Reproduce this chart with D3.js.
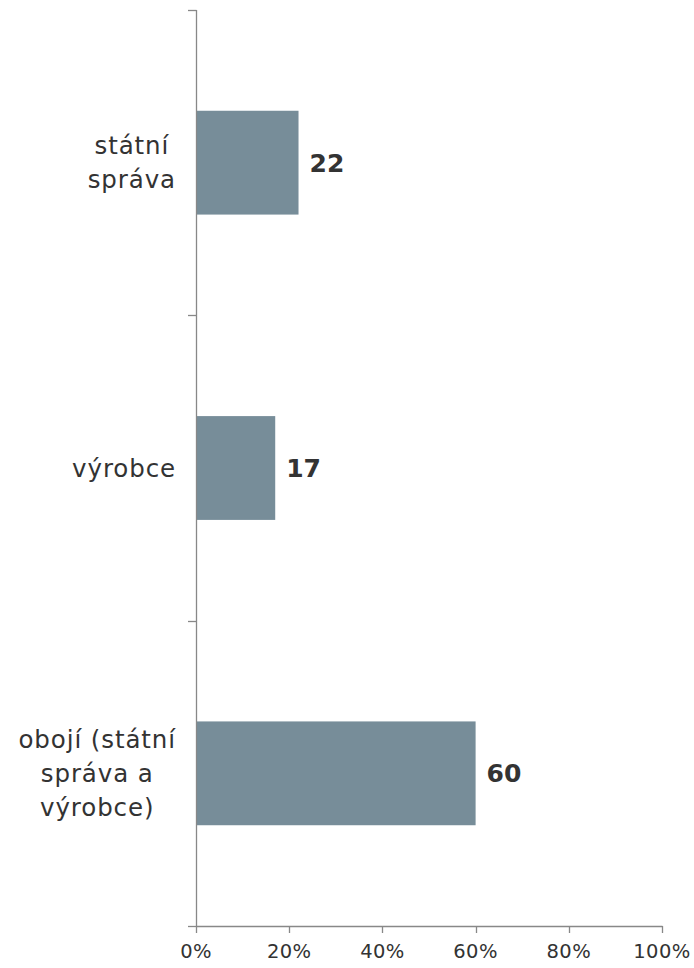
<!DOCTYPE html>
<html>
<head>
<meta charset="utf-8">
<script src="https://cdn.jsdelivr.net/npm/d3@7"></script>
<style>
  html, body { margin: 0; padding: 0; background: #fff; }
  svg { display: block; }
  text { font-family: "DejaVu Sans", Verdana, sans-serif; fill: #333; }
</style>
</head>
<body>
<svg id="chart" width="694" height="968"></svg>
<script>
const categories = [["státní", "správa"], ["výrobce"], ["obojí (státní", "správa a", "výrobce)"]];
const values = [22, 17, 60];
const tickValues = [0, 20, 40, 60, 80, 100];
const tickLabels = ["0%", "20%", "40%", "60%", "80%", "100%"];

(function () {
const svg = d3.select("#chart");
const plotLeft = 196, plotRight = 662, plotTop = 10, plotBottom = 926;

const x = d3.scaleLinear().domain([0, 100]).range([plotLeft, plotRight]);
const y = d3.scaleBand().domain(d3.range(categories.length)).range([plotTop, plotBottom])
  .paddingInner(0.66).paddingOuter(0.33);
const step = y.step();

const axisColor = "#888";

// bars
svg.selectAll("rect.bar").data(values).enter().append("rect")
  .attr("class", "bar")
  .attr("x", x(0))
  .attr("y", (d, i) => y(i))
  .attr("width", d => x(d) - x(0))
  .attr("height", y.bandwidth())
  .attr("fill", "#778d99");

// y axis line
svg.append("line").attr("x1", plotLeft + 0.5).attr("x2", plotLeft + 0.5)
  .attr("y1", plotTop).attr("y2", plotBottom).attr("stroke", axisColor).attr("stroke-width", 1.3);
// y ticks at category boundaries
const boundaries = d3.range(categories.length + 1).map(i => plotTop + i * step);
svg.selectAll("line.ytick").data(boundaries).enter().append("line")
  .attr("x1", plotLeft - 8).attr("x2", plotLeft + 0.5)
  .attr("y1", d => Math.round(d) + 0.5).attr("y2", d => Math.round(d) + 0.5)
  .attr("stroke", axisColor).attr("stroke-width", 1.3);

// x axis
svg.append("line").attr("x1", plotLeft).attr("x2", plotRight + 0.5)
  .attr("y1", plotBottom + 0.5).attr("y2", plotBottom + 0.5).attr("stroke", axisColor).attr("stroke-width", 1.3);
svg.selectAll("line.xtick").data(tickValues).enter().append("line")
  .attr("x1", d => Math.round(x(d)) + 0.5).attr("x2", d => Math.round(x(d)) + 0.5)
  .attr("y1", plotBottom).attr("y2", plotBottom + 7)
  .attr("stroke", axisColor).attr("stroke-width", 1.3);
svg.selectAll("text.xlab").data(tickValues).enter().append("text")
  .attr("x", d => x(d)).attr("y", 958)
  .attr("text-anchor", "middle").style("font-size", "19.5px")
  .style("letter-spacing", "0.4px")
  .text((d, i) => tickLabels[i]);

// value labels
svg.selectAll("text.val").data(values).enter().append("text")
  .attr("x", d => x(d) + 11)
  .attr("y", (d, i) => y(i) + y.bandwidth() / 2)
  .attr("dy", "0.36em")
  .style("font-size", "25px").style("font-weight", "bold")
  .text(d => d);

// category labels: block right-aligned near axis, lines centered within block
const lineH = 34;
const labelRight = 176;
categories.forEach((lines, i) => {
  const t = svg.append("text").style("font-size", "24.5px").style("letter-spacing", "0.9px")
    .attr("text-anchor", "middle");
  const cy = y(i) + y.bandwidth() / 2;
  const n = lines.length;
  const spans = lines.map((l, k) => t.append("tspan").attr("y", cy + (k - (n - 1) / 2) * lineH).attr("dy", "0.36em").text(l));
  const maxW = d3.max(spans, s => s.node().getComputedTextLength());
  spans.forEach(s => s.attr("x", labelRight - maxW / 2));
});
})();
</script>
</body>
</html>
